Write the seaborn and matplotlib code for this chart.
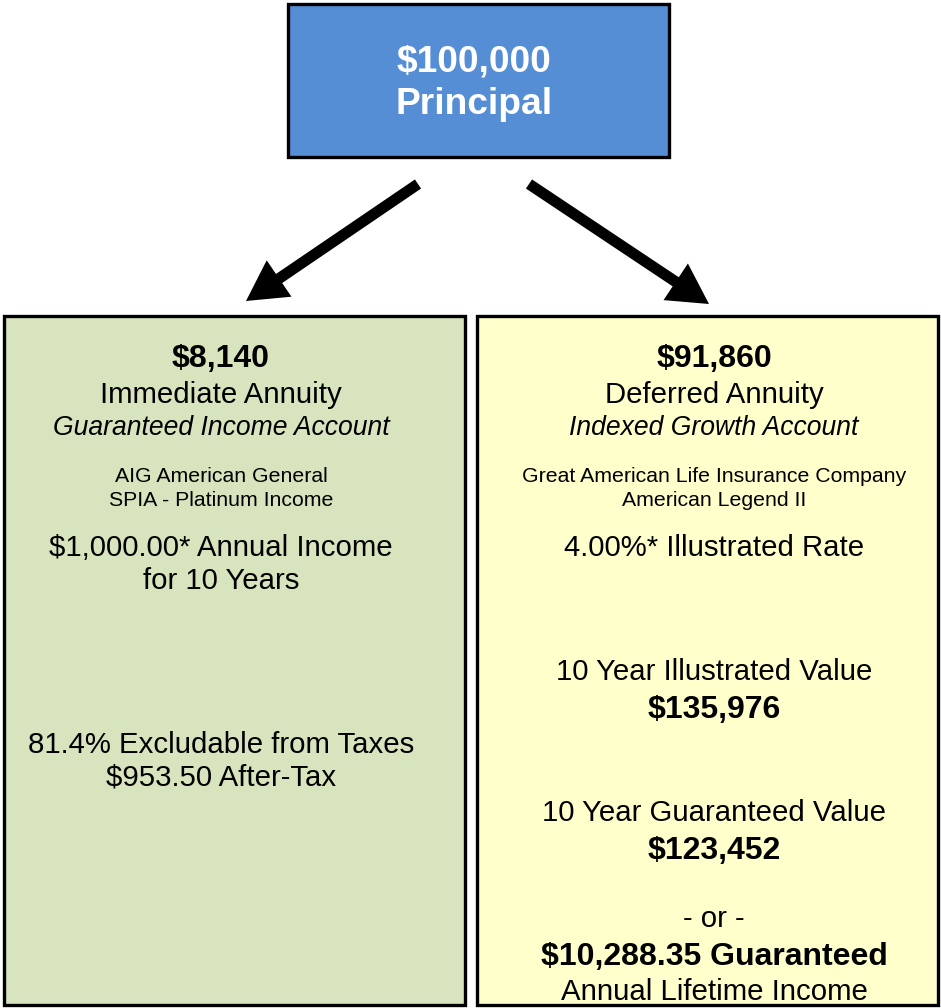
import matplotlib.pyplot as plt
import matplotlib.patches as mpatches
import seaborn as sns

# text content of the three boxes
top_lines = ["$100,000", "Principal"]

left_lines = ["$8,140", "Immediate Annuity", "Guaranteed Income Account",
              "AIG American General", "SPIA - Platinum Income",
              "$1,000.00* Annual Income", "for 10 Years",
              "81.4% Excludable from Taxes", "$953.50 After-Tax"]

right_lines = ["$91,860", "Deferred Annuity", "Indexed Growth Account",
               "Great American Life Insurance Company", "American Legend II",
               "4.00%* Illustrated Rate",
               "10 Year Illustrated Value", "$135,976",
               "10 Year Guaranteed Value", "$123,452",
               "- or -", "$10,288.35 Guaranteed", "Annual Lifetime Income"]

# layout (pixel coordinates, y down)
left_y = [359, 395, 428, 477, 500, 548, 581, 745, 778]
left_style = ["b", "n", "i", "s", "s", "n", "n", "n", "n"]
right_y = [359, 395, 428, 477, 500, 548, 672, 710, 813, 851, 919, 957, 992]
right_style = ["b", "n", "i", "s", "s", "n", "n", "b", "n", "b", "n", "b", "n"]

sns.set_style("white")
plt.rcParams["font.family"] = ["Liberation Sans", "DejaVu Sans"]

W, H = 941, 1008
fig = plt.figure(figsize=(W / 100, H / 100), dpi=100)
ax = fig.add_axes([0, 0, 1, 1])
ax.set_xlim(0, W)
ax.set_ylim(H, 0)
ax.axis("off")

def box(x0, y0, x1, y1, color):
    ax.add_patch(mpatches.Rectangle((x0, y0), x1 - x0, y1 - y0, facecolor=color,
                                    edgecolor="black", linewidth=2.4))

box(288, 4, 669, 157, "#558ED5")
box(4, 316, 465, 1005, "#D7E4BD")
box(477, 316, 938, 1005, "#FFFFCC")

for t, y in zip(top_lines, [62, 104]):
    ax.text(474, y, t, ha="center", va="center", color="white",
            fontsize=26.7, fontweight="bold")

styles = {"b": dict(fontsize=23, fontweight="bold"),
          "n": dict(fontsize=21.2),
          "i": dict(fontsize=19.1, fontstyle="italic"),
          "s": dict(fontsize=15.3)}

for t, y, s in zip(left_lines, left_y, left_style):
    ax.text(221, y, t, ha="center", va="center", color="black", **styles[s])
for t, y, s in zip(right_lines, right_y, right_style):
    ax.text(714, y, t, ha="center", va="center", color="black", **styles[s])

# arrows
for (x0, y0), (x1, y1) in [((418, 184), (246, 301)), ((529, 184), (709, 304))]:
    ax.add_patch(mpatches.FancyArrow(x0, y0, x1 - x0, y1 - y0, width=11,
                                     head_width=44, head_length=40,
                                     length_includes_head=True,
                                     color="black", linewidth=0))

fig.savefig("out.png", dpi=100)
